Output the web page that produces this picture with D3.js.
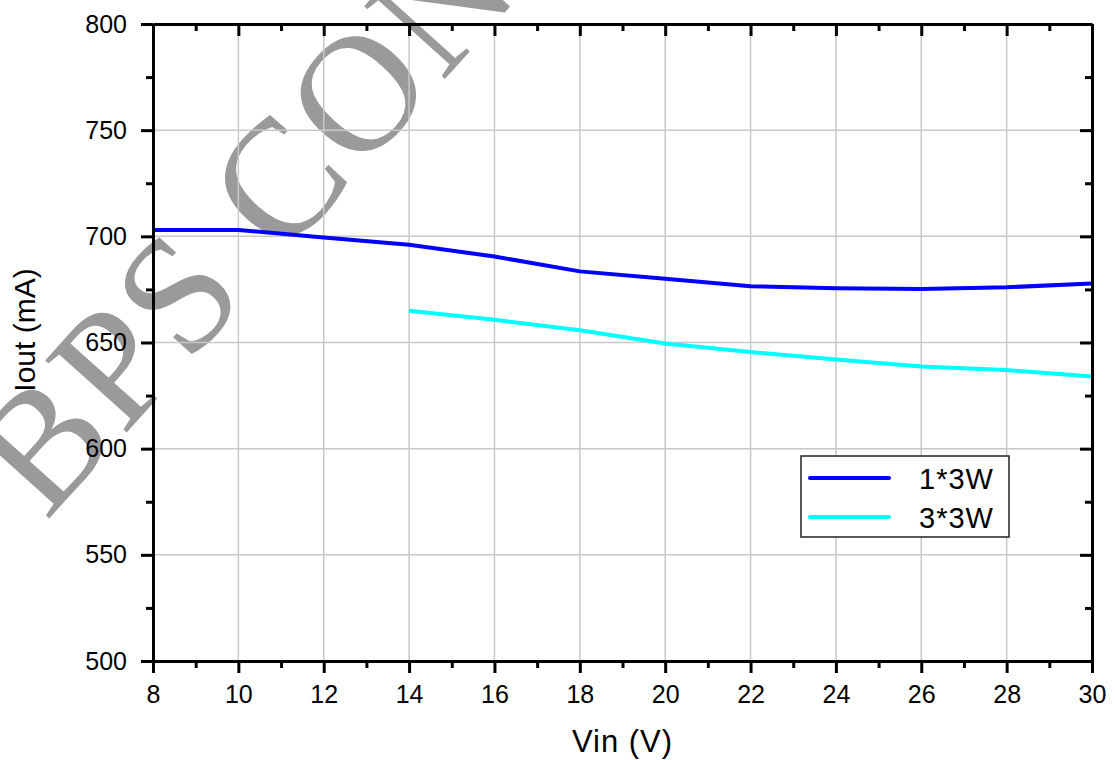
<!DOCTYPE html>
<html>
<head>
<meta charset="utf-8">
<script src="https://cdnjs.cloudflare.com/ajax/libs/d3/7.8.5/d3.min.js"></script>
<style>
  html, body { margin: 0; padding: 0; background: #fff; }
  svg { display: block; font-family: "Liberation Sans", Arial, sans-serif; }
</style>
</head>
<body>
<svg id="chart" width="1115" height="760"></svg>
<script>
// data
var vinA = [8, 10, 12, 14, 16, 18, 20, 22, 24, 26, 28, 30],
    ioutA = [703, 703, 699.5, 696, 690.5, 683.5, 680, 676.5, 675.5, 675.2, 676, 677.8],
    vinB = [14, 16, 18, 20, 22, 24, 26, 28, 30],
    ioutB = [665, 660.7, 655.8, 649.5, 645.5, 642, 638.7, 637, 634],
    seriesNames = ['1*3W', '3*3W'],
    seriesColors = ['#0000ff', '#00ffff'],
    xTicks = [8, 10, 12, 14, 16, 18, 20, 22, 24, 26, 28, 30],
    yTicks = [500, 550, 600, 650, 700, 750, 800],
    watermark = 'BPS CONFIDENTIAL';

var plotLeft = 153, plotRight = 1092, plotTop = 24, plotBottom = 661;

var svg = d3.select('#chart');

var x = d3.scaleLinear().domain([8, 30]).range([plotLeft, plotRight]),
    y = d3.scaleLinear().domain([500, 800]).range([plotBottom, plotTop]);

// watermark sits under everything else
svg.append('text')
  .attr('transform', 'translate(46,522) rotate(-48)')
  .attr('font-family', '"Liberation Serif", "DejaVu Serif", serif')
  .attr('font-size', 166)
  .attr('letter-spacing', 4)
  .attr('fill', '#9a9a9a')
  .text(watermark);

// grid
var grid = svg.append('g').attr('class', 'grid');
grid.selectAll('line.gx')
  .data(xTicks.slice(1, -1))
  .enter().append('line')
  .attr('class', 'gx')
  .attr('x1', function(d) { return x(d); })
  .attr('x2', function(d) { return x(d); })
  .attr('y1', plotTop).attr('y2', plotBottom);
grid.selectAll('line.gy')
  .data(yTicks.slice(1, -1))
  .enter().append('line')
  .attr('class', 'gy')
  .attr('y1', function(d) { return y(d); })
  .attr('y2', function(d) { return y(d); })
  .attr('x1', plotLeft).attr('x2', plotRight);
grid.selectAll('line')
  .attr('stroke', '#c8c8c8')
  .attr('stroke-width', 1.5);

// series
var line = d3.line()
  .x(function(d) { return x(d[0]); })
  .y(function(d) { return y(d[1]); });

var series = [d3.zip(vinA, ioutA), d3.zip(vinB, ioutB)];

svg.selectAll('path.series')
  .data(series)
  .enter().append('path')
  .attr('class', 'series')
  .attr('d', line)
  .attr('fill', 'none')
  .attr('stroke', function(d, i) { return seriesColors[i]; })
  .attr('stroke-width', 4)
  .attr('stroke-linejoin', 'round');

// axes: major + minor ticks on all four sides
var minorX = d3.range(9, 30, 2),
    minorY = d3.range(525, 800, 50);

function styleAxis(g) {
  g.select('.domain').attr('stroke', '#000').attr('stroke-width', 3);
  g.selectAll('.tick line').attr('stroke', '#000').attr('stroke-width', 3);
  g.selectAll('.tick text')
    .attr('fill', '#000')
    .attr('font-size', 25)
    .attr('font-family', '"Liberation Sans", Arial, sans-serif');
}

function drawAxis(axisFn, scale, major, minor, inner, labels, transform) {
  var gMinor = svg.append('g')
    .attr('transform', transform)
    .call(axisFn(scale).tickValues(minor).tickSize(inner ? -7 : 7).tickSizeOuter(0).tickFormat(''));
  styleAxis(gMinor);
  gMinor.select('.domain').remove();
  var gMajor = svg.append('g')
    .attr('transform', transform)
    .call(axisFn(scale).tickValues(major).tickSize(inner ? -12 : 12).tickSizeOuter(0).tickPadding(10)
      .tickFormat(labels ? d3.format('d') : ''));
  styleAxis(gMajor);
  return gMajor;
}

var gx = drawAxis(d3.axisBottom, x, xTicks, minorX, false, true, 'translate(0,' + plotBottom + ')');
gx.selectAll('.tick text').attr('y', 42).attr('dy', 0);
drawAxis(d3.axisTop, x, xTicks, minorX, true, false, 'translate(0,' + plotTop + ')');
var gy = drawAxis(d3.axisLeft, y, yTicks, minorY, false, true, 'translate(' + plotLeft + ',0)');
gy.selectAll('.tick text').attr('x', -26);
drawAxis(d3.axisRight, y, yTicks, minorY, true, false, 'translate(' + plotRight + ',0)');

// axis titles
svg.append('text')
  .attr('x', (plotLeft + plotRight) / 2)
  .attr('y', 752)
  .attr('text-anchor', 'middle')
  .attr('font-size', 31)
  .attr('letter-spacing', 1)
  .text('Vin (V)');

svg.append('text')
  .attr('transform', 'translate(35,330) rotate(-90)')
  .attr('text-anchor', 'middle')
  .attr('font-size', 30)
  .text('Iout (mA)');

// legend
var legend = svg.append('g').attr('transform', 'translate(801,456)');
legend.append('rect')
  .attr('width', 208).attr('height', 81)
  .attr('fill', '#fff')
  .attr('stroke', '#222')
  .attr('stroke-width', 1.5);

var item = legend.selectAll('g.item')
  .data(seriesNames)
  .enter().append('g')
  .attr('class', 'item')
  .attr('transform', function(d, i) { return 'translate(0,' + (22 + i * 39) + ')'; });
item.append('line')
  .attr('x1', 9).attr('x2', 88)
  .attr('stroke', function(d, i) { return seriesColors[i]; })
  .attr('stroke-width', 4)
  .attr('stroke-linecap', 'round');
item.append('text')
  .attr('x', 193)
  .attr('y', 10.5)
  .attr('text-anchor', 'end')
  .attr('font-size', 29)
  .attr('letter-spacing', 1)
  .text(function(d) { return d; });
</script>
</body>
</html>
